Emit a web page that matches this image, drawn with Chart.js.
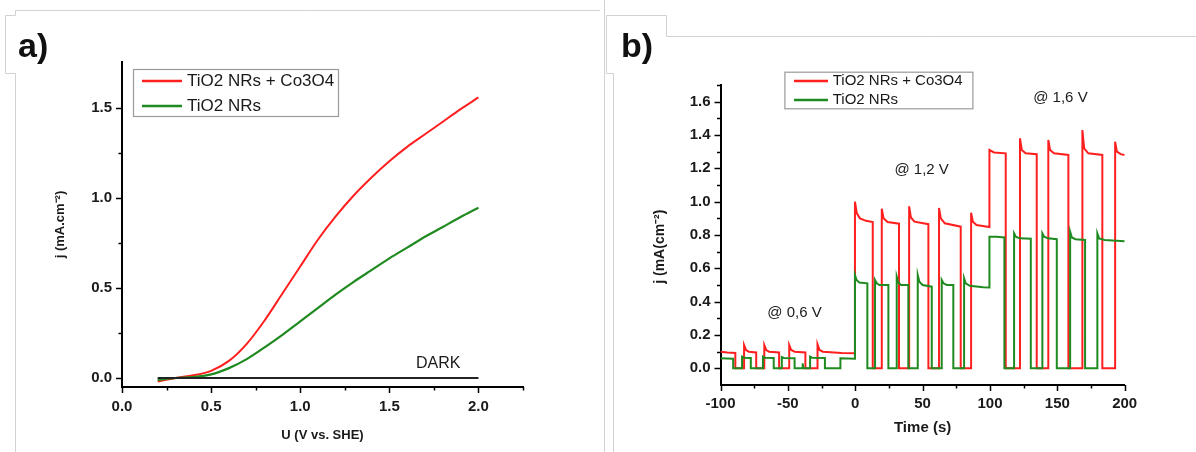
<!DOCTYPE html>
<html>
<head>
<meta charset="utf-8">
<script src="https://cdn.jsdelivr.net/npm/chart.js@4.4.1/dist/chart.umd.min.js"></script>
<style>
html,body{margin:0;padding:0;background:#fff;}
#wrap{position:relative;width:1196px;height:452px;overflow:hidden;background:#fff;}
#boxa{position:absolute;left:0;top:0;width:600px;height:452px;}
#boxb{position:absolute;left:600px;top:0;width:596px;height:452px;}
</style>
</head>
<body>
<div id="wrap">
  <div id="boxa"><canvas id="ca" width="600" height="452"></canvas></div>
  <div id="boxb"><canvas id="cb" width="596" height="452"></canvas></div>
</div>
<script>
// ---------------- Panel a data: j-V curves ----------------
const SERIES_NAMES = ['TiO2 NRs + Co3O4', 'TiO2 NRs'];
const A_U = [0.2,0.3,0.4,0.5,0.6,0.7,0.8,0.9,1.0,1.1,1.2,1.3,1.4,1.5,1.6,1.7,1.8,1.9,2.0];
const A_J_CO3O4 = [-0.02,0.0,0.015,0.04,0.095,0.19,0.32,0.47,0.62,0.77,0.90,1.015,1.115,1.205,1.285,1.355,1.425,1.495,1.56];
const A_J_TIO2  = [-0.01,0.0,0.005,0.02,0.055,0.105,0.17,0.24,0.315,0.39,0.465,0.535,0.60,0.665,0.725,0.785,0.84,0.895,0.947];
const A_DARK_U = [0.2, 2.0];
const A_DARK_J = [0.0, 0.0];
const A_X_TICKS = [0,0.25,0.5,0.75,1.0,1.25,1.5,1.75,2.0,2.25];
const A_X_LABELS = {'0':'0.0','0.5':'0.5','1':'1.0','1.5':'1.5','2':'2.0'};
const A_Y_TICKS = [0,0.25,0.5,0.75,1.0,1.25,1.5];
const A_Y_LABELS = {'0':'0.0','0.5':'0.5','1':'1.0','1.5':'1.5'};

// ---------------- Panel b data: chopped-light chronoamperometry ----------------
const B_T_CO3O4 = [
  -100,-95,-89,-89,
  -82.5,-82.5,-81,-79,-73.5,-73.5,
  -67.5,-67.5,-66,-64,-56.5,-56.5,
  -49,-49,-47.5,-45,-37,-37,
  -28,-28,-26.5,-24,-10,-0.2,
  -0.2,1.2,3.5,8,13,13,
  19.7,19.7,21,24,32.5,32.5,
  40,40,41.3,44,54.3,54.3,
  62.2,62.2,63.5,66.5,78.3,78.3,
  86,86,87.3,90,99.6,99.6,
  103,111.7,111.7,
  122.3,122.3,123.6,126.5,134.7,134.7,
  143.3,143.3,144.6,147.5,158.2,158.2,
  168.6,168.6,169.9,173,183.4,183.4,
  192.9,192.9,194.2,197,200];
const B_J_CO3O4 = [
  0.100,0.095,0.092,0,
  0,0.14,0.11,0.10,0.095,0,
  0,0.14,0.11,0.10,0.095,0,
  0,0.14,0.11,0.10,0.095,0,
  0,0.145,0.11,0.10,0.092,0.09,
  1.0,0.93,0.90,0.885,0.878,0,
  0,0.958,0.90,0.878,0.868,0,
  0,0.972,0.905,0.88,0.865,0,
  0,0.962,0.90,0.87,0.85,0,
  0,0.934,0.88,0.86,0.848,1.31,
  1.295,1.29,0,
  0,1.38,1.31,1.29,1.285,0,
  0,1.37,1.31,1.29,1.28,0,
  0,1.43,1.32,1.29,1.28,0,
  0,1.36,1.30,1.285,1.28];
const B_T_TIO2 = [
  -100,-90.6,-90.6,
  -84,-84,-82.5,-77.5,-77.5,
  -68.5,-68.5,-67,-60.5,-60.5,
  -54.5,-54.5,-53,-45,-45,
  -39.5,-39,-38.5,
  -33.5,-33.5,-32,-22.5,-22.5,
  -11,-11,-0.2,
  -0.2,1,3,9,9,
  14.7,14.7,16,18,24.6,24.6,
  30.8,30.8,32,34,39.4,39.4,
  46.4,46.4,47.6,50,56.8,56.8,
  64.2,64.2,65.5,68,72.8,72.8,
  80.8,80.8,82,85,95,99.6,99.6,
  105,110.7,110.7,
  117.9,117.9,119.2,122,130.3,130.3,
  138.9,138.9,140.2,143,149.6,149.6,
  159.5,159.5,160.8,163.5,170.6,170.6,
  179.7,179.7,181,185,200];
const B_J_TIO2 = [
  0.06,0.058,0,
  0,0.07,0.064,0.062,0,
  0,0.07,0.064,0.062,0,
  0,0.068,0.062,0.06,0,
  0,0.03,0,
  0,0.07,0.064,0.062,0,
  0,0.06,0.058,
  0.56,0.53,0.515,0.51,0,
  0,0.53,0.51,0.50,0.50,0,
  0,0.55,0.515,0.50,0.50,0,
  0,0.56,0.52,0.50,0.49,0,
  0,0.53,0.51,0.50,0.50,0,
  0,0.54,0.51,0.495,0.487,0.485,0.79,
  0.79,0.785,0,
  0,0.81,0.79,0.78,0.778,0,
  0,0.81,0.79,0.78,0.775,0,
  0,0.82,0.785,0.775,0.77,0,
  0,0.81,0.78,0.77,0.762];
const B_X_TICKS = [-100,-75,-50,-25,0,25,50,75,100,125,150,175,200];
const B_X_LABELS = {'-100':'-100','-50':'-50','0':'0','50':'50','100':'100','150':'150','200':'200'};
const B_Y_TICKS = [0,0.1,0.2,0.3,0.4,0.5,0.6,0.7,0.8,0.9,1.0,1.1,1.2,1.3,1.4,1.5,1.6,1.7];
const B_Y_LABELS = {'0':'0.0','0.2':'0.2','0.4':'0.4','0.6':'0.6','0.8':'0.8','1':'1.0','1.2':'1.2','1.4':'1.4','1.6':'1.6'};

// ---------------- styles ----------------
const RED = '#ff1f1f';
const GREEN = '#1f8a1f';
const FONT = "'Liberation Sans', Arial, sans-serif";
const FRAME = '#d2d2d2';
const TEXT = '#1a1a1a';
const MAJOR_TICK = 6, MINOR_TICK = 3.5;

function pts(xs, ys) { return xs.map((x, i) => ({x: x, y: ys[i]})); }
function keyOf(v) { return String(Math.round(v * 1000) / 1000); }
function labelFrom(map) {
  return function(v) { const k = keyOf(v); return map[k] !== undefined ? map[k] : ''; };
}
function fixTicks(list) { return function(s) { s.ticks = list.map(v => ({value: v})); }; }

function axis(o) {
  return {
    type: 'linear', min: o.min, max: o.max,
    afterBuildTicks: fixTicks(o.ticks),
    afterFit: o.fit,
    border: {display: true, color: '#000', width: 2},
    grid: {display: true, drawOnChartArea: false, drawTicks: false},
    ticks: {autoSkip: false, maxRotation: 0, padding: o.pad, color: TEXT,
            font: {family: FONT, size: o.fs, weight: 'bold'}, callback: labelFrom(o.labels)},
    title: {display: true, text: o.title, color: TEXT,
            font: {family: FONT, size: o.tfs, weight: 'bold'}, padding: o.tpad}
  };
}

function drawPoly(ctx, p, color, w) {
  ctx.save(); ctx.strokeStyle = color; ctx.lineWidth = w; ctx.beginPath();
  ctx.moveTo(p[0][0], p[0][1]);
  for (let i = 1; i < p.length; i++) ctx.lineTo(p[i][0], p[i][1]);
  ctx.stroke(); ctx.restore();
}
function drawText(ctx, txt, x, y, font, color, align) {
  ctx.save(); ctx.font = font; ctx.fillStyle = color || TEXT; ctx.textAlign = align || 'left';
  ctx.textBaseline = 'middle'; ctx.fillText(txt, x, y); ctx.restore();
}
function drawLegend(ctx, chart, box, rows, lx0, lx1, tx, fs) {
  ctx.save();
  ctx.fillStyle = '#fff'; ctx.fillRect(box[0], box[1], box[2], box[3]);
  ctx.strokeStyle = '#9a9a9a'; ctx.lineWidth = 1.2;
  ctx.strokeRect(box[0] + 0.5, box[1] + 0.5, box[2], box[3]);
  ctx.restore();
  rows.forEach(r => {
    const ds = chart.data.datasets[r.ds];
    drawPoly(ctx, [[lx0, r.y], [lx1, r.y]], ds.borderColor, 2.5);
    drawText(ctx, ds.label, tx, r.y, fs + 'px ' + FONT, TEXT);
  });
}
// outward tick marks, long for labelled (major) values and short for minor ones
function drawTickMarks(chart, xt, xl, yt, yl) {
  const ctx = chart.ctx, x = chart.scales.x, y = chart.scales.y;
  const b = chart.chartArea.bottom, l = chart.chartArea.left;
  xt.forEach(v => {
    const p = Math.round(x.getPixelForValue(v)) + 0.5;
    const len = xl[keyOf(v)] !== undefined ? MAJOR_TICK : MINOR_TICK;
    drawPoly(ctx, [[p, b], [p, b + len]], '#000', 1.5);
  });
  yt.forEach(v => {
    const p = Math.round(y.getPixelForValue(v)) + 0.5;
    const len = yl[keyOf(v)] !== undefined ? MAJOR_TICK : MINOR_TICK;
    drawPoly(ctx, [[l - len, p], [l, p]], '#000', 1.5);
  });
}

// ---------------- Panel a ----------------
const decorA = {
  id: 'decorA',
  afterDraw(chart) {
    const ctx = chart.ctx;
    drawTickMarks(chart, A_X_TICKS, A_X_LABELS, A_Y_TICKS, A_Y_LABELS);
    drawPoly(ctx, [[600, 10.5], [15.5, 10.5], [15.5, 15.5], [5.5, 15.5], [5.5, 73.5], [15.5, 73.5], [15.5, 452]], FRAME, 1);
    drawText(ctx, 'a)', 18, 48, 'bold 34px ' + FONT, '#111');
    drawLegend(ctx, chart, [133, 69, 205, 47], [{ds: 0, y: 81}, {ds: 1, y: 106}], 142, 182, 187, 17);
    const x = chart.scales.x, y = chart.scales.y;
    drawText(ctx, 'DARK', x.getPixelForValue(1.65), y.getPixelForValue(0.082), '16px ' + FONT, TEXT);
  }
};

new Chart(document.getElementById('ca'), {
  type: 'line',
  data: {
    datasets: [
      {label: SERIES_NAMES[0], data: pts(A_U, A_J_CO3O4), borderColor: RED, borderWidth: 2, pointRadius: 0, cubicInterpolationMode: 'monotone', order: 2},
      {label: SERIES_NAMES[1], data: pts(A_U, A_J_TIO2), borderColor: GREEN, borderWidth: 2.2, pointRadius: 0, cubicInterpolationMode: 'monotone', order: 1},
      {label: 'DARK', data: pts(A_DARK_U, A_DARK_J), borderColor: '#222', borderWidth: 2, pointRadius: 0, order: 0}
    ]
  },
  options: {
    responsive: false, animation: false, devicePixelRatio: 1,
    layout: {padding: {left: 0, top: 62, right: 77, bottom: 0}},
    plugins: {legend: {display: false}, tooltip: {enabled: false}},
    scales: {
      x: axis({min: 0, max: 2.25, ticks: A_X_TICKS, labels: A_X_LABELS, pad: 11, fs: 15,
               title: 'U (V vs. SHE)', tfs: 13, tpad: {top: 0, bottom: 9}, fit: s => { s.height = 65; }}),
      y: axis({min: -0.05, max: 1.757, ticks: A_Y_TICKS, labels: A_Y_LABELS, pad: 10, fs: 15,
               title: 'j (mA.cm⁻²)', tfs: 13, tpad: {top: 53, bottom: 0}, fit: s => { s.width = 122; }})
    }
  },
  plugins: [decorA]
});

// ---------------- Panel b ----------------
const decorB = {
  id: 'decorB',
  afterDraw(chart) {
    const ctx = chart.ctx;
    drawTickMarks(chart, B_X_TICKS, B_X_LABELS, B_Y_TICKS, B_Y_LABELS);
    drawPoly(ctx, [[4.5, 0], [4.5, 452]], FRAME, 1);
    drawPoly(ctx, [[13.5, 452], [13.5, 73.5], [6.5, 73.5], [6.5, 15.5], [66.5, 15.5], [66.5, 36.5], [596, 36.5]], FRAME, 1);
    drawText(ctx, 'b)', 21, 48, 'bold 34px ' + FONT, '#111');
    drawLegend(ctx, chart, [184.4, 71.7, 188, 36.6], [{ds: 0, y: 81}, {ds: 1, y: 100}], 194, 228, 232.7, 15);
    const x = chart.scales.x, y = chart.scales.y;
    const notes = [['@ 0,6 V', -65.3, 0.331], ['@ 1,2 V', 29.1, 1.188], ['@ 1,6 V', 132.1, 1.622]];
    notes.forEach(n => drawText(ctx, n[0], x.getPixelForValue(n[1]), y.getPixelForValue(n[2]), '15px ' + FONT, TEXT));
  }
};

new Chart(document.getElementById('cb'), {
  type: 'line',
  data: {
    datasets: [
      {label: SERIES_NAMES[0], data: pts(B_T_CO3O4, B_J_CO3O4), borderColor: RED, borderWidth: 2, pointRadius: 0, tension: 0, order: 2},
      {label: SERIES_NAMES[1], data: pts(B_T_TIO2, B_J_TIO2), borderColor: GREEN, borderWidth: 2, pointRadius: 0, tension: 0, order: 1}
    ]
  },
  options: {
    responsive: false, animation: false, devicePixelRatio: 1,
    layout: {padding: {left: 0, top: 85, right: 71.3, bottom: 0}},
    plugins: {legend: {display: false}, tooltip: {enabled: false}},
    scales: {
      x: axis({min: -100, max: 200, ticks: B_X_TICKS, labels: B_X_LABELS, pad: 10, fs: 15,
               title: 'Time (s)', tfs: 15, tpad: {top: 0, bottom: 15}, fit: s => { s.height = 67; }}),
      y: axis({min: -0.1, max: 1.7, ticks: B_Y_TICKS, labels: B_Y_LABELS, pad: 10, fs: 15,
               title: 'j (mA(cm⁻²)      ', tfs: 14, tpad: {top: 52, bottom: 0}, fit: s => { s.width = 120.5; }})
    }
  },
  plugins: [decorB]
});
</script>
</body>
</html>
